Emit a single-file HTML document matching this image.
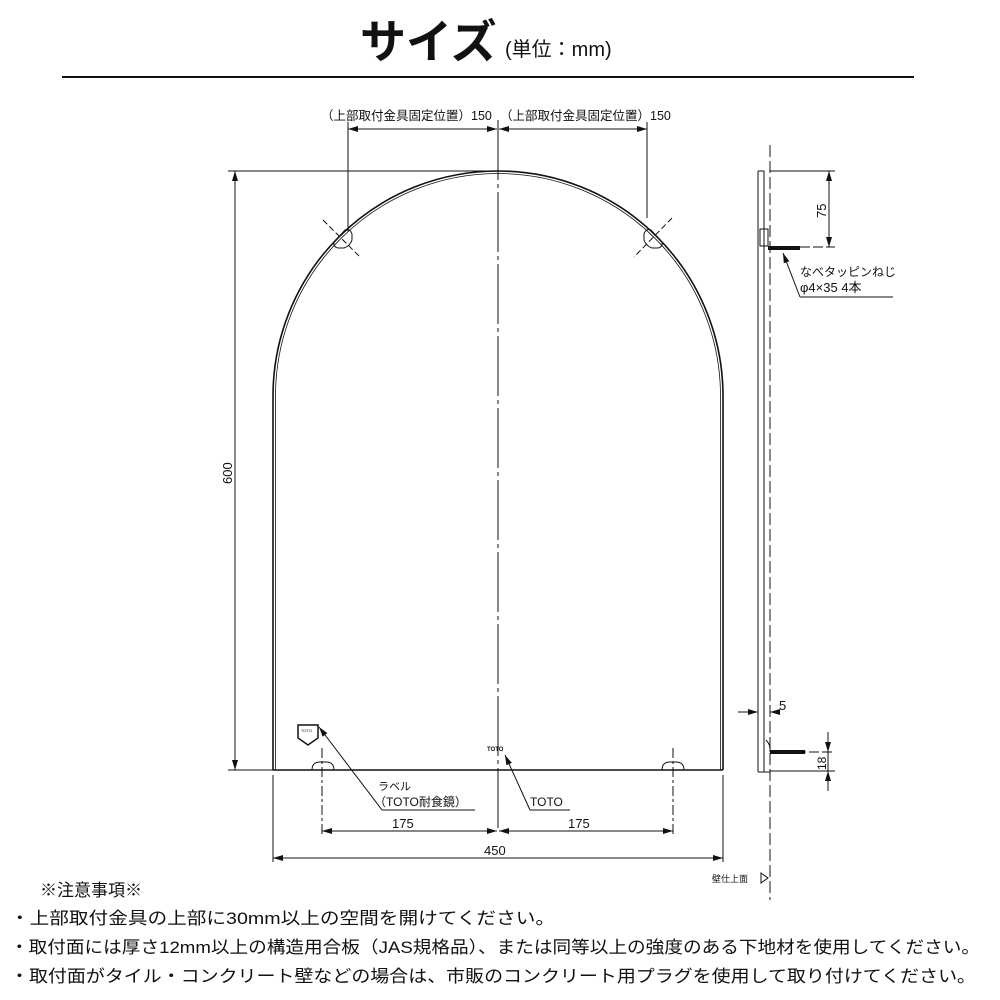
<!DOCTYPE html>
<html><head><meta charset="utf-8"><style>
html,body{margin:0;padding:0;background:#fff;}
svg{display:block;}
text{font-family:"Liberation Sans","Noto Sans CJK JP",sans-serif;fill:#111;}
</style></head><body>
<svg width="1000" height="1000" viewBox="0 0 1000 1000" xmlns="http://www.w3.org/2000/svg">
<defs>
<marker id="a" viewBox="0 0 10 6" refX="10" refY="3" markerWidth="10" markerHeight="6" orient="auto-start-reverse" markerUnits="userSpaceOnUse"><path d="M0,0 L10,3 L0,6 z" fill="#111"/></marker>
</defs>
<text x="360" y="58" font-size="46" font-weight="bold">サイズ</text>
<text x="505" y="56" font-size="20">(単位：mm)</text>
<rect x="62" y="76" width="852" height="2" fill="#111"/>

<g stroke="#111" fill="none" stroke-width="1">
<path d="M273,770 L273,396 A225,225 0 0 1 723,396 L723,770" stroke-width="1.6"/>
<path d="M275.5,770 L275.5,396 A222.5,222.5 0 0 1 720.5,396 L720.5,770" stroke-width="0.8"/>
<line x1="273" y1="770" x2="723" y2="770" stroke-width="1.6"/>
<line x1="498" y1="120" x2="498" y2="830" stroke-dasharray="60,4,4,4"/>
<line x1="348" y1="122" x2="348" y2="232"/>
<line x1="647" y1="122" x2="647" y2="218"/>
<line x1="348" y1="129" x2="497" y2="129" marker-start="url(#a)" marker-end="url(#a)"/>
<line x1="499" y1="129" x2="647" y2="129" marker-start="url(#a)" marker-end="url(#a)"/>
<line x1="323" y1="220" x2="361" y2="258" stroke-dasharray="6,3"/>
<line x1="672" y1="218" x2="634" y2="257" stroke-dasharray="6,3"/>
<path d="M334,242 L345,230 Q350,228 352,234 L352,240 Q350,246 344,248 L338,248 Q333,247 334,242 z"/>
<path d="M662,242 L651,230 Q646,228 644,234 L644,240 Q646,246 652,248 L658,248 Q663,247 662,242 z"/>
<line x1="228" y1="171" x2="498" y2="171"/>
<line x1="228" y1="770" x2="273" y2="770"/>
<line x1="235" y1="171" x2="235" y2="770" marker-start="url(#a)" marker-end="url(#a)"/>
<path d="M312,770 Q312,762 320,762 L326,762 Q334,762 334,770"/>
<path d="M662,770 Q662,762 670,762 L676,762 Q684,762 684,770"/>
<line x1="322" y1="748" x2="322" y2="835" stroke-dasharray="10,3,3,3"/>
<line x1="673" y1="748" x2="673" y2="835" stroke-dasharray="10,3,3,3"/>
<line x1="273" y1="775" x2="273" y2="862"/>
<line x1="723" y1="775" x2="723" y2="862"/>
<line x1="322" y1="831" x2="497" y2="831" marker-start="url(#a)" marker-end="url(#a)"/>
<line x1="499" y1="831" x2="673" y2="831" marker-start="url(#a)" marker-end="url(#a)"/>
<line x1="273" y1="858" x2="723" y2="858" marker-start="url(#a)" marker-end="url(#a)"/>
<path d="M298,725 L318,725 L318,738 L308,745 L298,738 z" stroke-width="1.5"/>
<line x1="319" y1="727" x2="382" y2="810" marker-start="url(#a)"/>
<line x1="382" y1="810" x2="475" y2="810"/>
<line x1="505" y1="755" x2="530" y2="810" marker-start="url(#a)"/>
<line x1="530" y1="810" x2="570" y2="810"/>
<line x1="758" y1="171" x2="758" y2="772"/>
<line x1="764" y1="171" x2="764" y2="772"/>
<line x1="758" y1="171" x2="764" y2="171"/>
<line x1="758" y1="772" x2="770" y2="772"/>
<line x1="770" y1="145" x2="770" y2="900" stroke-dasharray="12,4"/>
<rect x="760" y="229" width="8" height="17"/>
<line x1="770" y1="171" x2="835" y2="171"/>
<line x1="800" y1="247" x2="835" y2="247" stroke-dasharray="10,3"/>
<line x1="829" y1="171" x2="829" y2="247" marker-start="url(#a)" marker-end="url(#a)"/>
<line x1="783" y1="253" x2="800" y2="297" marker-start="url(#a)"/>
<line x1="800" y1="297" x2="893" y2="297"/>
<line x1="738" y1="712" x2="758" y2="712" marker-end="url(#a)"/>
<line x1="780" y1="712" x2="770" y2="712" marker-end="url(#a)"/>
<line x1="770" y1="752" x2="835" y2="752" stroke-dasharray="10,3"/>
<line x1="770" y1="771" x2="835" y2="771"/>
<line x1="828" y1="732" x2="828" y2="752" marker-end="url(#a)"/>
<line x1="828" y1="791" x2="828" y2="771" marker-end="url(#a)"/>
<line x1="828" y1="752" x2="828" y2="771"/>
<path d="M761,873 L768,878 L761,883 z"/>
</g>
<rect x="768" y="246" width="32" height="4" fill="#111"/>
<rect x="770" y="750" width="35" height="4" fill="#111"/>
<path d="M766,740 Q771,745 770,752" stroke="#111" fill="none"/>

<text x="321" y="120" font-size="12.5">（上部取付金具固定位置）150</text>
<text x="500" y="120" font-size="12.5">（上部取付金具固定位置）150</text>
<text x="0" y="0" font-size="13" transform="translate(232,484) rotate(-90)">600</text>
<text x="392" y="828" font-size="13">175</text>
<text x="568" y="828" font-size="13">175</text>
<text x="484" y="855" font-size="13">450</text>
<text x="378" y="790" font-size="11">ラベル</text>
<text x="374" y="806" font-size="12">（TOTO耐食鏡）</text>
<text x="487" y="751" font-size="6" font-weight="bold">TOTO</text>
<text x="301" y="732" font-size="4">TOTO</text>
<text x="530" y="806" font-size="12">TOTO</text>
<text x="0" y="0" font-size="13" transform="translate(826,218) rotate(-90)">75</text>
<text x="800" y="276" font-size="12">なべタッピンねじ</text>
<text x="800" y="292" font-size="13">φ4×35  4本</text>
<text x="779" y="710" font-size="13">5</text>
<text x="0" y="0" font-size="12" transform="translate(826,770) rotate(-90)">18</text>
<text x="712" y="882" font-size="9">壁仕上面</text>

<text x="40" y="896" font-size="17">※注意事項※</text>
<text x="10" y="924" font-size="17" textLength="545" lengthAdjust="spacingAndGlyphs">・上部取付金具の上部に30mm以上の空間を開けてください。</text>
<text x="10" y="953" font-size="17" textLength="970" lengthAdjust="spacingAndGlyphs">・取付面には厚さ12mm以上の構造用合板（JAS規格品）、または同等以上の強度のある下地材を使用してください。</text>
<text x="10" y="982" font-size="17" textLength="966" lengthAdjust="spacingAndGlyphs">・取付面がタイル・コンクリート壁などの場合は、市販のコンクリート用プラグを使用して取り付けてください。</text>
</svg>
</body></html>
